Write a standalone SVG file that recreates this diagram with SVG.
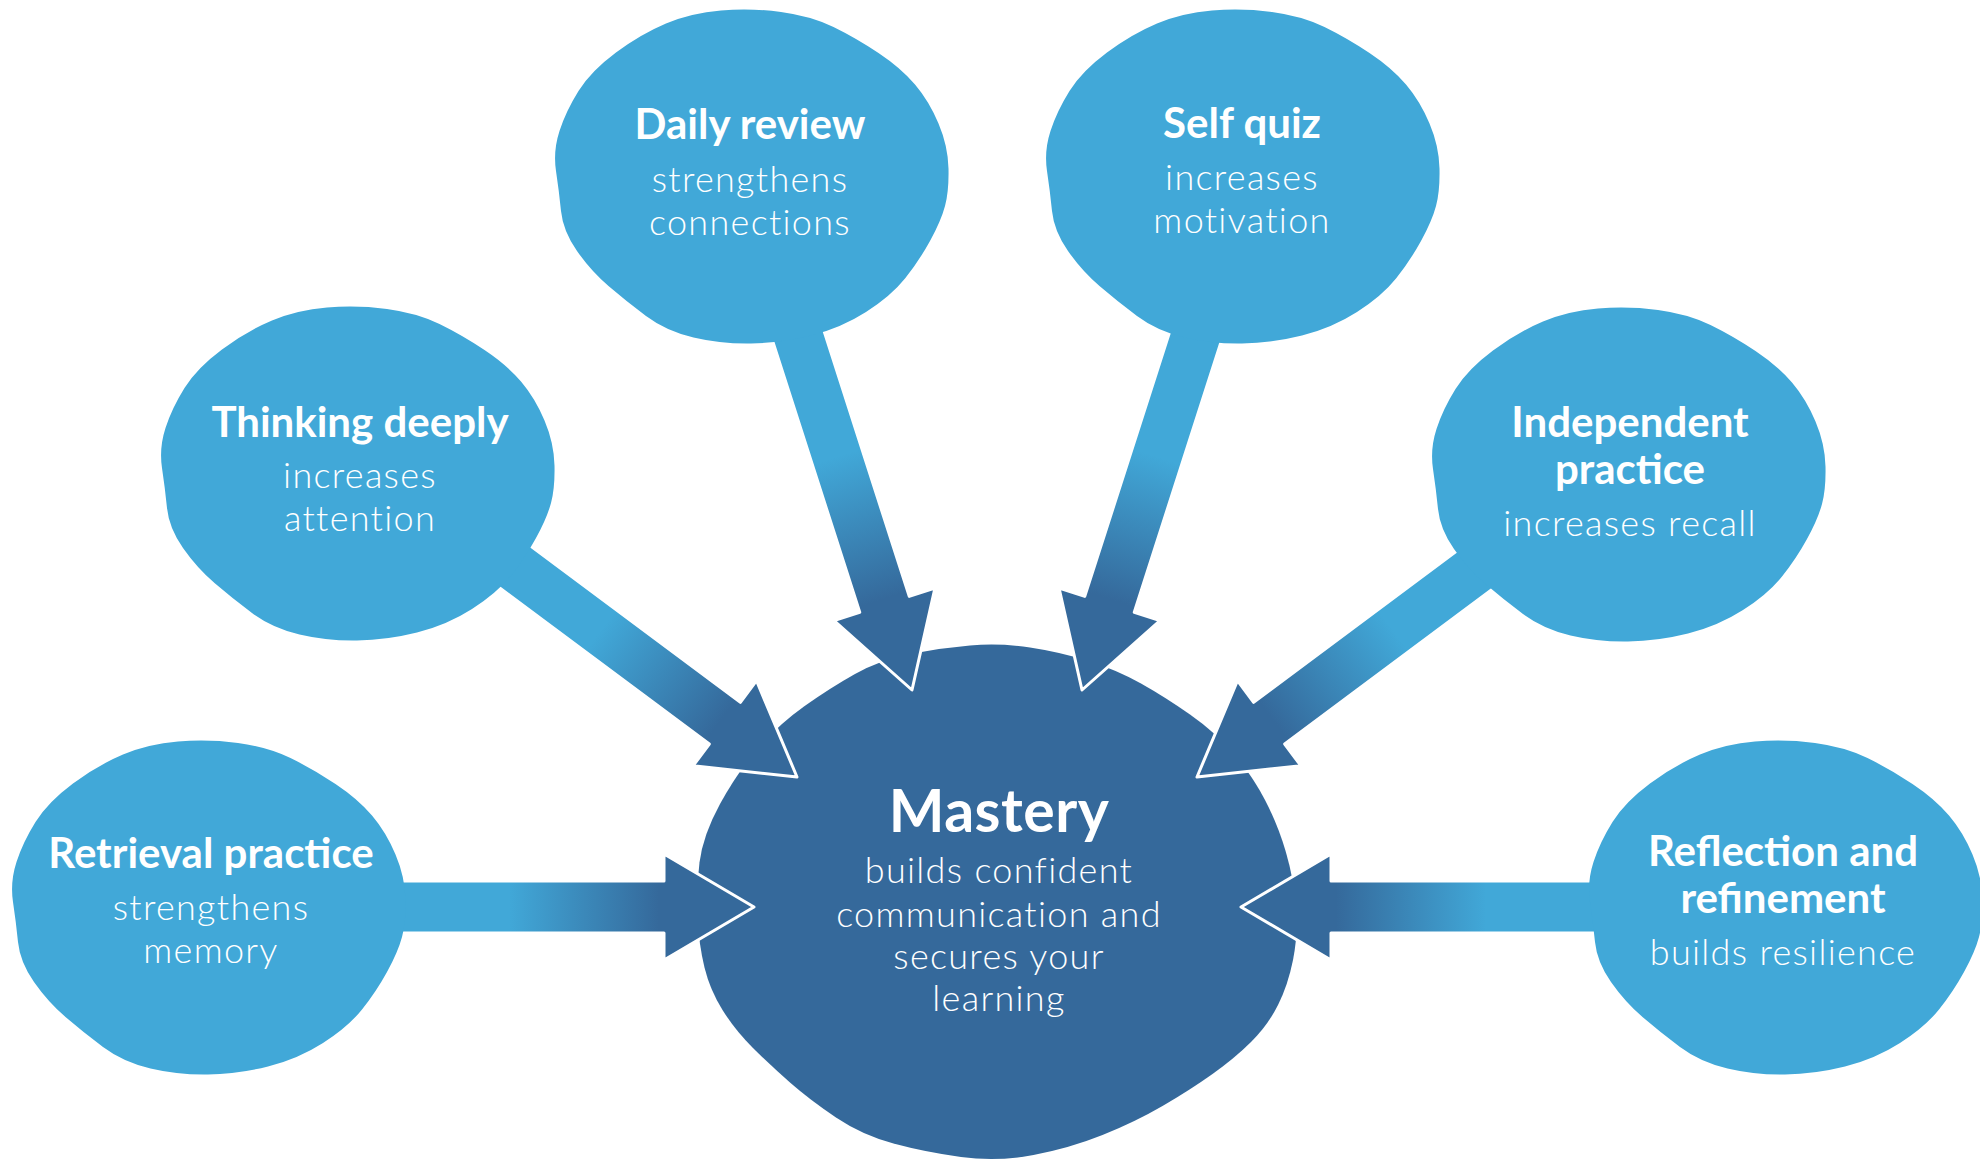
<svg xmlns="http://www.w3.org/2000/svg" xmlns:xlink="http://www.w3.org/1999/xlink" width="1980" height="1164" viewBox="0 0 1980 1164">
<style>
.light{fill:#41A8D8}
.dark{fill:#35699B}
text{fill:#ffffff;text-anchor:middle;font-family:Lato,"Open Sans","Liberation Sans",sans-serif}
.t{font-size:42px;font-weight:700}
.s{font-size:36px;font-weight:300;letter-spacing:1.3px}
.mt{font-size:59px;font-weight:700;letter-spacing:0.5px}
.arrow{fill:url(#arrowGrad);stroke:#ffffff;stroke-width:3;stroke-linejoin:round}
</style>
<defs>
<linearGradient id="arrowGrad" gradientUnits="userSpaceOnUse" x1="-245" y1="0" x2="-95" y2="0">
<stop offset="0" stop-color="#41A8D8"/>
<stop offset="1" stop-color="#35699B"/>
</linearGradient>
<path id="blob" d="M -30,-165.5 Q 0,-168 30,-164 Q 60,-160 82.5,-149 Q 105,-138 127.5,-123 Q 150,-108 164,-91.5 Q 178,-75 187.5,-52.5 Q 197,-30 197.5,-7.5 Q 198,15 194,30 Q 190,45 179,65 Q 168,85 154,102.5 Q 140,120 115,136 Q 90,152 60,159.5 Q 30,167 0,167.5 Q -30,168 -57.5,161.5 Q -85,155 -105,140 Q -125,125 -142.5,110 Q -160,95 -174,75 Q -188,55 -190,35 Q -192,15 -195,-5 Q -198,-25 -191.5,-45 Q -185,-65 -172.5,-85 Q -160,-105 -135,-123.5 Q -110,-142 -85,-152.5 Q -60,-163 -30,-165.5 Z"/>
<path id="arrowShape" class="arrow" d="M 0,0 L -90,-53 L -90,-26 L -450,-26 L -450,26 L -90,26 L -90,53 Z"/>
</defs>
<rect width="1980" height="1164" fill="#ffffff"/>

<g id="node-mastery">
<path class="dark" d="M 720,804 Q 737,773 757.5,749 Q 778,725 804,706.5 Q 830,688 855,674 Q 880,660 910,654 Q 940,648 970,645.5 Q 1000,643 1030,647.5 Q 1060,652 1088.5,661 Q 1117,670 1141,683.5 Q 1165,697 1190,714.5 Q 1215,732 1233.5,753.5 Q 1252,775 1265,800 Q 1278,825 1286,852.5 Q 1294,880 1296,907.5 Q 1298,935 1293,960 Q 1288,985 1278,1005 Q 1268,1025 1251.5,1041.5 Q 1235,1058 1212.5,1074 Q 1190,1090 1162.5,1106 Q 1135,1122 1102.5,1135 Q 1070,1148 1033.5,1155 Q 997,1162 961,1157 Q 925,1152 893.5,1143.5 Q 862,1135 836,1117.5 Q 810,1100 790,1082.5 Q 770,1065 752.5,1047.5 Q 735,1030 722.5,1010 Q 710,990 704.5,967.5 Q 699,945 697.5,917.5 Q 696,890 699.5,862.5 Q 703,835 720,804 Z"/>
<text class="mt" x="999" y="832">Mastery</text>
<text class="s" x="999" y="883">builds confident</text>
<text class="s" x="999" y="927">communication and</text>
<text class="s" x="999" y="969">secures your</text>
<text class="s" x="999" y="1011">learning</text>
</g>

<g id="connectors">
<use xlink:href="#arrowShape" href="#arrowShape" transform="translate(754,907)"/>
<use xlink:href="#arrowShape" href="#arrowShape" transform="translate(1241,907) rotate(180)"/>
<use xlink:href="#arrowShape" href="#arrowShape" transform="translate(912,690) rotate(72.2)"/>
<use xlink:href="#arrowShape" href="#arrowShape" transform="translate(1082,690) rotate(107.8)"/>
<use xlink:href="#arrowShape" href="#arrowShape" transform="translate(797,777) rotate(36.7)"/>
<use xlink:href="#arrowShape" href="#arrowShape" transform="translate(1197,777) rotate(143.3)"/>
</g>

<g id="node-daily-review">
<use xlink:href="#blob" href="#blob" class="light" transform="translate(751,176)"/>
<text class="t" x="750" y="139">Daily review</text>
<text class="s" x="750" y="192">strengthens</text>
<text class="s" x="750" y="235">connections</text>
</g>

<g id="node-self-quiz">
<use xlink:href="#blob" href="#blob" class="light" transform="translate(1242,176)"/>
<text class="t" x="1242" y="138">Self quiz</text>
<text class="s" x="1242" y="190">increases</text>
<text class="s" x="1242" y="233">motivation</text>
</g>

<g id="node-thinking-deeply">
<use xlink:href="#blob" href="#blob" class="light" transform="translate(357,473)"/>
<text class="t" x="360" y="437">Thinking deeply</text>
<text class="s" x="360" y="488">increases</text>
<text class="s" x="360" y="531">attention</text>
</g>

<g id="node-independent-practice">
<use xlink:href="#blob" href="#blob" class="light" transform="translate(1628,474)"/>
<text class="t" x="1630" y="437">Independent</text>
<text class="t" x="1630" y="484">practice</text>
<text class="s" x="1630" y="536">increases recall</text>
</g>

<g id="node-retrieval-practice">
<use xlink:href="#blob" href="#blob" class="light" transform="translate(208,907)"/>
<text class="t" x="211" y="868">Retrieval practice</text>
<text class="s" x="211" y="920">strengthens</text>
<text class="s" x="211" y="963">memory</text>
</g>

<g id="node-reflection-refinement">
<use xlink:href="#blob" href="#blob" class="light" transform="translate(1785,907)"/>
<text class="t" x="1783" y="866">Reflection and</text>
<text class="t" x="1783" y="913">refinement</text>
<text class="s" x="1783" y="965">builds resilience</text>
</g>
</svg>
